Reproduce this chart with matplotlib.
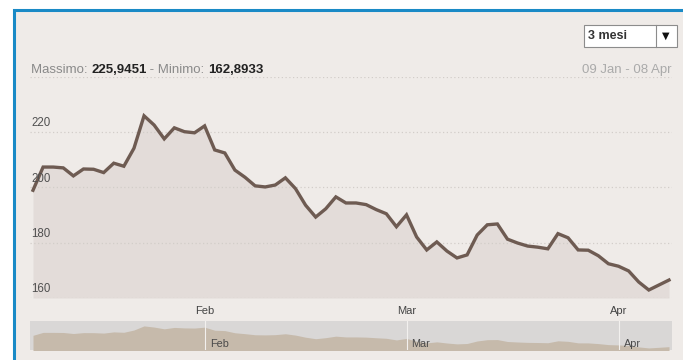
import matplotlib as mpl
mpl.use('Agg')
import matplotlib.pyplot as plt
from matplotlib.patches import Rectangle

plt.rcParams['font.family'] = ['Liberation Sans', 'DejaVu Sans']

# daily closes, 09 Jan - 08 Apr (trading days)
prices = [199.0, 207.4, 207.4, 207.1, 204.2, 206.7, 206.6, 205.4, 208.8, 207.7,
          214.2, 225.9451, 222.6, 217.6, 221.6, 220.2, 219.8, 222.3, 213.6, 212.5,
          206.3, 203.7, 200.6, 200.2, 200.9, 203.5, 199.6, 193.6, 189.3, 192.3,
          196.6, 194.4, 194.4, 193.8, 192.0, 190.5, 185.8, 190.1, 182.1, 177.4,
          180.3, 177.0, 174.5, 175.6, 182.8, 186.5, 186.8, 181.3, 179.9, 178.8,
          178.4, 177.8, 183.3, 181.8, 177.4, 177.3, 175.3, 172.4, 171.5, 169.8,
          165.8, 162.8933, 164.7, 166.5]
month_idx = [17, 37, 58]
month_lbl = ['Feb', 'Mar', 'Apr']
yticks = [160, 180, 200, 220, 240]
massimo = '225,9451'
minimo = '162,8933'
periodo = '09 Jan - 08 Apr'
scelta = '3 mesi'

W, H = 683, 360
bg = '#efebe8'
line_c = '#6e5b52'
fill_c = '#e3dcd9'
blue = '#1a8ac6'

def fx(px):
    return px / W

def fy(py):
    return 1 - py / H

fig = plt.figure(figsize=(W / 100, H / 100), dpi=100, facecolor='white')

# panel with blue border
fig.patches.append(Rectangle((fx(14), fy(400)), fx(700), 390 / H, transform=fig.transFigure,
                             facecolor=bg, edgecolor=blue, lw=2.2, zorder=-5))

n = len(prices)
xs = list(range(n))
pad = 3 / (636 / (n - 1))

# main chart
ax = fig.add_axes([fx(30), fy(298), fx(642), (298 - 77) / H])
ax.set_facecolor('none')
ax.fill_between(xs, prices, 160, color=fill_c, lw=0, zorder=1)
ax.plot(xs, prices, color=line_c, lw=2.4, solid_joinstyle='miter', zorder=3)
ax.set_xlim(-pad, n - 1 + pad)
ax.set_ylim(160, 240)
for v in yticks:
    ax.axhline(v, color='#d2cdc9', lw=0.9, ls=(0, (1, 2)), zorder=2)
    if v < 240:
        ax.text(-pad + 0.15, v + 1.0, str(v), fontsize=8.3, color='#505050',
                ha='left', va='bottom', zorder=4)
for s in ax.spines.values():
    s.set_visible(False)
ax.set_yticks([])
ax.set_xticks(month_idx)
ax.set_xticklabels(month_lbl, fontsize=8, color='#444444')
ax.tick_params(axis='x', length=0, pad=6)

# navigator
nav = fig.add_axes([fx(30), fy(350), fx(642), 29 / H])
nav.set_facecolor('#d9d7d6')
nav.fill_between(xs, prices, 150, color='#c6baab', lw=0)
nav.set_xlim(-pad, n - 1 + pad)
nav.set_ylim(157, 240)
for i, m in zip(month_idx, month_lbl):
    nav.axvline(i, color='#f2f0ee', lw=0.8)
    nav.text(i + 0.5, 160, m, fontsize=7.8, color='#4a4a4a', ha='left', va='bottom')
nav.set_xticks([])
nav.set_yticks([])
for s in nav.spines.values():
    s.set_visible(False)

# header: grey labels, bold values, chained one after another
parts = [(massimo, 'bold', '#222222'), (' - Minimo: ', 'normal', '#8a8a8a'),
         (minimo, 'bold', '#222222')]
t = fig.text(fx(31), fy(73), 'Massimo: ', fontsize=9.5, color='#8a8a8a', va='baseline')
for txt, w, c in parts:
    a = mpl.text.Annotation(txt, xy=(1, 0), xycoords=t, fontsize=9.5, color=c,
                            fontweight=w, va='bottom', ha='left')
    fig.add_artist(a)
    t = a

fig.text(fx(671), fy(73), periodo, fontsize=9.5, color='#aaaaaa', ha='right', va='baseline')

# dropdown
fig.patches.append(Rectangle((fx(584), fy(47)), fx(93), 22 / H, transform=fig.transFigure,
                             facecolor='white', edgecolor='#8c8c8c', lw=0.8))
fig.add_artist(plt.Line2D([fx(656), fx(656)], [fy(47), fy(25)], transform=fig.transFigure,
                          color='#8c8c8c', lw=0.8))
fig.text(fx(588), fy(36), scelta, fontsize=9, color='#333333', fontweight='bold', va='center')
fig.text(fx(666), fy(36), '\u25bc', fontsize=7, color='#111111', ha='center', va='center',
         family=['DejaVu Sans'])

fig.savefig('out.png', dpi=100, facecolor='white')
